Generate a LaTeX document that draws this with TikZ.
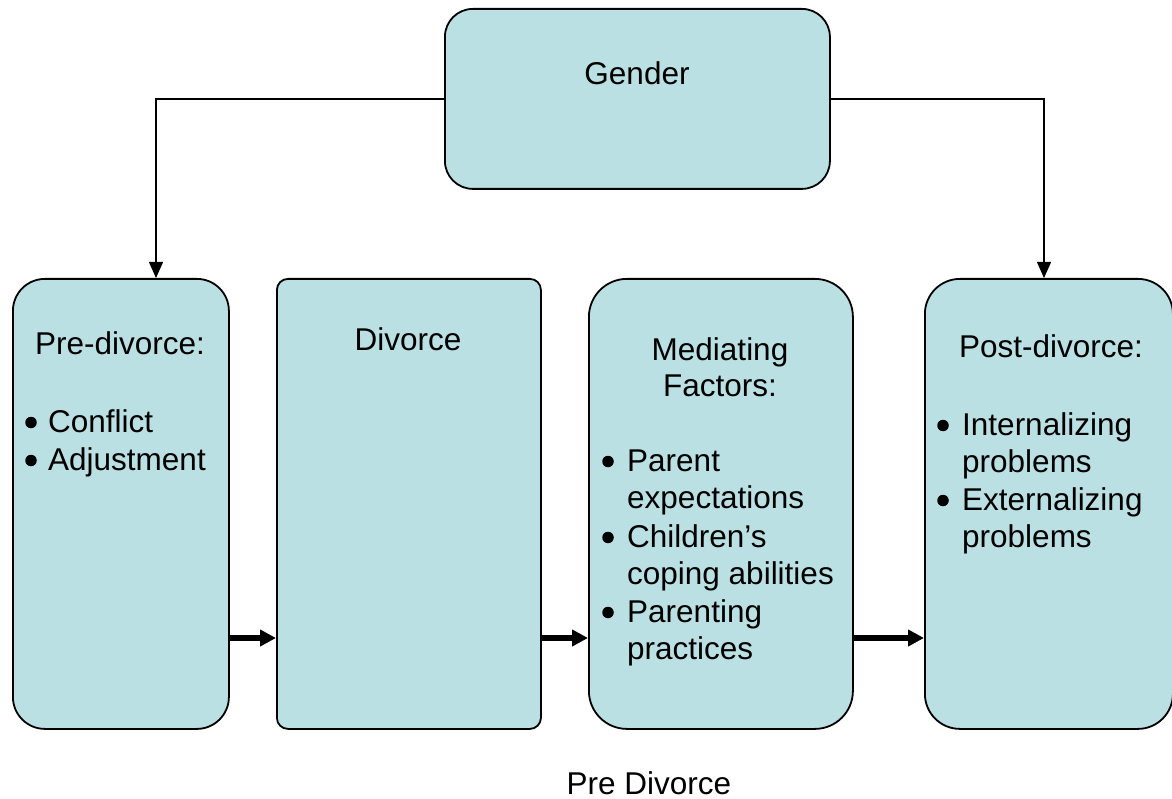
\documentclass[tikz,border=0pt]{standalone}
\usepackage{fontspec}
\setmainfont{Liberation Sans}
\usetikzlibrary{arrows.meta}
\definecolor{boxfill}{HTML}{BBE0E3}
\begin{document}
\begin{tikzpicture}[x=1pt,y=-1pt,
  box/.style={draw=black,line width=1.8pt,fill=boxfill,anchor=north west,inner sep=0pt},
  txt/.style={inner sep=0pt,font=\fontsize{31.5pt}{37.5pt}\selectfont},
  lbl/.style={txt,anchor=base},
  itm/.style={txt,anchor=base west},
  bul/.style={circle,fill=black,inner sep=0pt,minimum size=11.5pt},
  thinarrow/.style={draw=black,line width=1.3pt,-{Triangle[length=16pt,width=14pt]}},
  thickarrow/.style={draw=black,line width=5.5pt,-{Triangle[length=16pt,width=16pt]}}]
\useasboundingbox (0,0) rectangle (1172,799);
% boxes
\node[box,rounded corners=28pt,minimum width=385pt,minimum height=180pt] (gender) at (444,8) {};
\node[box,rounded corners=32pt,minimum width=216pt,minimum height=450pt] (pre) at (12,278) {};
\node[box,rounded corners=11pt,minimum width=264pt,minimum height=450pt] (div) at (276,278) {};
\node[box,rounded corners=38pt,minimum width=264pt,minimum height=450pt] (med) at (588,278) {};
\node[box,rounded corners=35pt,minimum width=248pt,minimum height=450pt] (post) at (924,278) {};
% texts
\node[lbl] (tgender) at (637,85) {Gender};
\node[lbl] (tpre) at (120,355) {Pre-divorce:};
\node[bul] (b1) at (31,422.5) {};
\node[itm] (t1) at (48,432) {Conflict};
\node[bul] (b2) at (31,460.5) {};
\node[itm] (t2) at (48,470) {Adjustment};
\node[lbl] (tdiv) at (408,350) {Divorce};
\node[lbl] (tmed1) at (720,360) {Mediating};
\node[lbl] (tmed2) at (720,396) {Factors:};
\node[bul] (b3) at (608,461.5) {};
\node[itm] (t3) at (627,471) {Parent};
\node[itm] (t3b) at (627,508) {expectations};
\node[bul] (b4) at (608,537.5) {};
\node[itm] (t4) at (627,547) {Children’s};
\node[itm] (t4b) at (627,584) {coping abilities};
\node[bul] (b5) at (608,612.5) {};
\node[itm] (t5) at (627,622) {Parenting};
\node[itm] (t5b) at (627,659) {practices};
\node[lbl] (tpost) at (1051,357) {Post-divorce:};
\node[bul] (b6) at (943,425.5) {};
\node[itm] (t6) at (962,435) {Internalizing};
\node[itm] (t6b) at (962,472) {problems};
\node[bul] (b7) at (943,500.5) {};
\node[itm] (t7) at (962,510) {Externalizing};
\node[itm] (t7b) at (962,547) {problems};
\node[lbl] (tcap) at (649,794) {Pre Divorce};
% connectors
\coordinate (lend) at (156,278);
\coordinate (rend) at (1044,278);
\coordinate (ay) at (0,638);
\draw[thinarrow] (gender.west) -| (lend);
\draw[thinarrow] (gender.east) -| (rend);
\draw[thickarrow] (pre.east |- ay) -- (div.west |- ay);
\draw[thickarrow] (div.east |- ay) -- (med.west |- ay);
\draw[thickarrow] (med.east |- ay) -- (post.west |- ay);
\end{tikzpicture}
\end{document}
